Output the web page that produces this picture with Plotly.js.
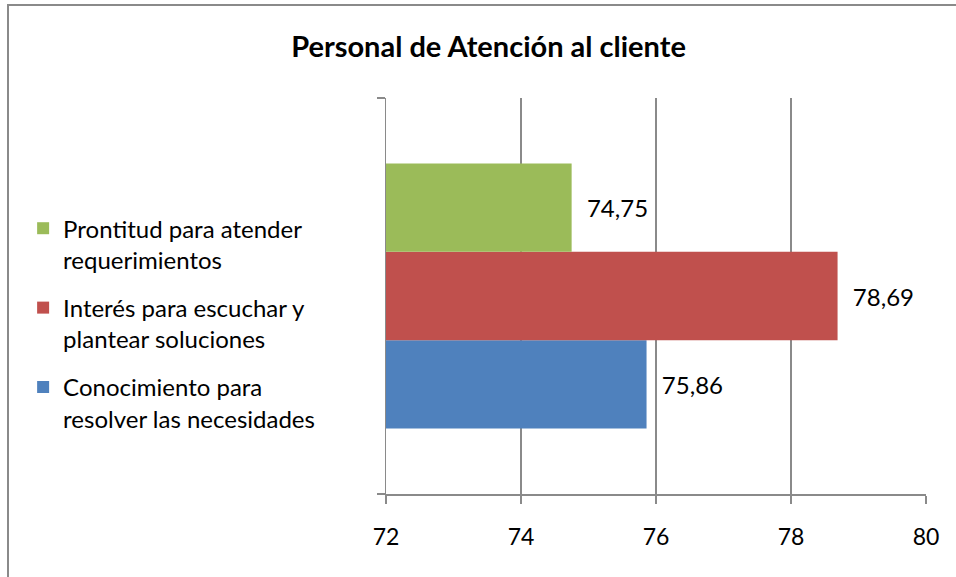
<!DOCTYPE html>
<html>
<head>
<meta charset="utf-8">
<script src="https://cdn.plot.ly/plotly-3.0.1.min.js"></script>
<style>
  html, body { margin: 0; padding: 0; overflow: hidden; background: #fff; }
  #chart { width: 956px; height: 577px; }
  #frame { position: absolute; left: 7px; top: 4px; width: 1000px; height: 700px;
           border-left: 2px solid #8a8a8a; border-top: 2px solid #8a8a8a; pointer-events: none; }
</style>
</head>
<body>
<div id="chart"></div>
<div id="frame"></div>
<script>
// Data
const seriesNames = [
  "Conocimiento para<br>resolver las necesidades",
  "Interés para escuchar y<br>plantear soluciones",
  "Prontitud para atender<br>requerimientos"
];
const seriesValues = [75.86, 78.69, 74.75];
const seriesColors = ["#4F81BD", "#C0504D", "#9BBB59"];
const category = [""];
const xTicks = [72, 74, 76, 78, 80];

const fontFamily = "Lato, 'Open Sans', sans-serif";

const traces = seriesNames.map((name, i) => ({
  type: "bar",
  orientation: "h",
  name: name,
  legendgroup: "g" + i,
  legendrank: 1000 - i,
  x: [seriesValues[i]],
  y: category,
  marker: { color: seriesColors[i], line: { width: 0 } },
  text: ["  " + seriesValues[i].toFixed(2).replace(".", ",")],
  textposition: "outside",
  constraintext: "none",
  cliponaxis: false,
  textfont: { family: fontFamily, size: 24, color: "#000" },
  hoverinfo: "skip"
}));

const layout = {
  width: 956,
  height: 577,
  margin: { l: 386, r: 30, t: 98, b: 83 },
  paper_bgcolor: "#fff",
  plot_bgcolor: "#fff",
  font: { family: fontFamily, size: 24, color: "#000" },
  title: {
    text: "<b>Personal de Atención al cliente</b>",
    font: { family: fontFamily, size: 29, color: "#000" },
    xref: "container", x: 0.511, xanchor: "center",
    yref: "container", y: 0.918, yanchor: "middle"
  },
  barmode: "group",
  bargap: 0.331,
  bargroupgap: 0,
  showlegend: true,
  legend: {
    x: -0.672, xanchor: "left",
    y: 0.727, yanchor: "top",
    traceorder: "grouped",
    tracegroupgap: 14,
    valign: "top",
    font: { family: fontFamily, size: 24, color: "#000" },
    bgcolor: "rgba(0,0,0,0)"
  },
  xaxis: {
    range: [xTicks[0], xTicks[xTicks.length - 1]],
    tickvals: xTicks,
    ticktext: xTicks.map(String),
    showgrid: true,
    gridcolor: "#8a8a8a",
    gridwidth: 1.5,
    zeroline: false,
    showline: true,
    linecolor: "#8a8a8a",
    linewidth: 1.5,
    ticks: "outside",
    ticklen: 8,
    tickwidth: 1.5,
    tickcolor: "#8a8a8a",
    ticklabelstandoff: 14,
    tickfont: { family: fontFamily, size: 23, color: "#000" },
    fixedrange: true
  },
  yaxis: {
    type: "category",
    showticklabels: false,
    showgrid: false,
    zeroline: false,
    showline: true,
    linecolor: "#8a8a8a",
    linewidth: 1.5,
    ticks: "outside",
    tickson: "boundaries",
    ticklen: 8,
    tickwidth: 1.5,
    tickcolor: "#8a8a8a",
    fixedrange: true
  }
};

Plotly.newPlot("chart", traces, layout, { displayModeBar: false, staticPlot: true });
</script>
</body>
</html>
